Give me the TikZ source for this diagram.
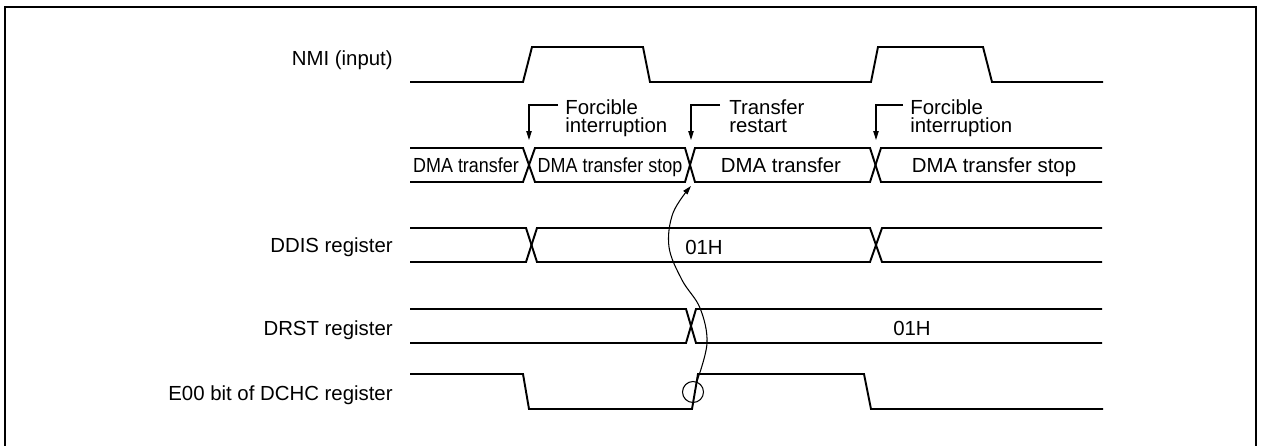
\documentclass[tikz,border=0pt]{standalone}
\usepackage{fontspec}
\setmainfont{Liberation Sans}
\usepackage{graphicx}
\usetikzlibrary{arrows.meta,calc}

\begin{document}
\begin{tikzpicture}[
        x=0.02cm, y=-0.02cm,
        sig/.style={line width=1.1pt, line join=miter},
        lbl/.style={anchor=base east, inner sep=0pt, font=\fontsize{11.6}{12}\selectfont},
        val/.style={anchor=base, inner sep=0pt, font=\fontsize{11.6}{12}\selectfont},
        note/.style={anchor=north west, inner sep=0pt, align=left,
            font=\fontsize{11.6}{10.2}\selectfont},
        arr/.style={-{Triangle[length=5pt,width=3pt]}, line width=0.6pt}
    ]
        \useasboundingbox (0,0) rectangle (1261,446);
        \draw[line width=1.1pt] (5,446) -- (5,7) -- (1256,7) -- (1256,446);

        % signal names
        \node[lbl] (nmi) at (393,66) {NMI (input)};
        \node[lbl] (ddis) at (393,252) {DDIS register};
        \node[lbl] (drst) at (393,335) {DRST register};
        \node[lbl] (e00) at (393,400) {E00 bit of DCHC register};

        % NMI
        \draw[sig] (410,82) -- (523,82) -- (532,47) -- (643,47) -- (650,82)
            -- (871,82) -- (878,47) -- (983,47) -- (992,82) -- (1103,82);

        % transfer state
        \draw[sig] (410,148) -- (523,148) -- (535,182) -- (685,182) -- (695,148)
            -- (870,148) -- (881,182) -- (1102,182);
        \draw[sig] (410,182) -- (523,182) -- (535,148) -- (685,148) -- (695,182)
            -- (870,182) -- (881,148) -- (1102,148);
        \node[val] (dma1) at (466,173) {\scalebox{0.88}[1]{DMA transfer}};
        \node[val] (stop1) at (610,173) {\scalebox{0.88}[1]{DMA transfer stop}};
        \node[val] (dma2) at (781,173) {DMA transfer};
        \node[val] (stop2) at (994,173) {DMA transfer stop};

        % DDIS
        \draw[sig] (410,228) -- (526,228) -- (537,262) -- (870,262) -- (882,228) -- (1102,228);
        \draw[sig] (410,262) -- (526,262) -- (537,228) -- (870,228) -- (882,262) -- (1102,262);
        \node[val] (ddisv) at (704,254) {01H};

        % DRST
        \draw[sig] (410,309) -- (686,309) -- (696,343) -- (1102,343);
        \draw[sig] (410,343) -- (686,343) -- (696,309) -- (1102,309);
        \node[val] (drstv) at (912,335) {01H};

        % E00
        \draw[sig] (410,374) -- (523,374) -- (529,409) -- (692,409) -- (698,374)
            -- (864,374) -- (871,409) -- (1103,409);

        % events
        \node[note] (fi1) at (565,99) {Forcible\\interruption};
        \node[note] (rs) at (729,99) {Transfer\\restart};
        \node[note] (fi2) at (910,99) {Forcible\\interruption};
        \coordinate (t1) at (529,140);
        \coordinate (t2) at (691,140);
        \coordinate (t3) at (876,140);
        \draw[arr] ($(fi1.north west)+(-7,6)$) -| (t1);
        \draw[arr] ($(rs.north west)+(-9,6)$) -| (t2);
        \draw[arr] ($(fi2.north west)+(-7,6)$) -| (t3);

        \node[draw, circle, line width=0.6pt, minimum size=0.42cm, inner sep=0pt] (ring) at (693,392) {};
        \coordinate (back) at (691,186);
        \draw[arr] plot[smooth, tension=0.6] coordinates
            {(ring.70) (707,343) (700,308) (682,280) (669,247) (673,213) (back)};
    \end{tikzpicture}
\end{document}
